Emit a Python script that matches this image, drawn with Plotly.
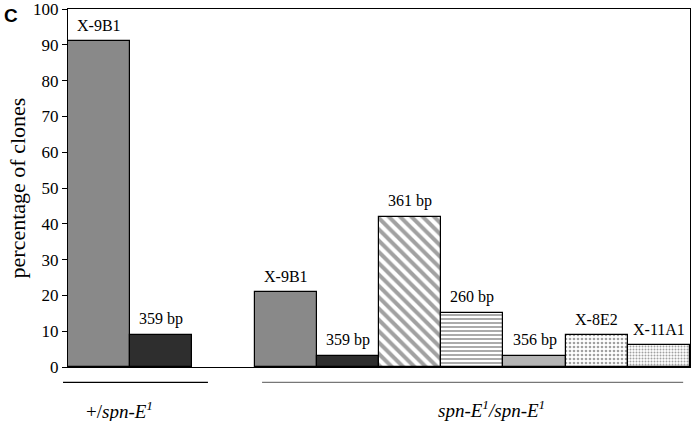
import plotly.graph_objects as go

#%%

# bar data (slot 2 is the empty gap between genotypes)
slots = [0, 1, 3, 4, 5, 6, 7, 8, 9]
labels = ["X-9B1", "359 bp", "X-9B1", "359 bp", "361 bp", "260 bp", "356 bp", "X-8E2", "X-11A1"]
values = [91, 9, 21, 3.2, 42, 15.2, 3, 9, 6.2]

colors = ["#898989", "#2e2e2e", "#898989", "#2e2e2e", "white", "white", "#b4b4b4", "white", "white"]
shapes = ["", "", "", "", "\\", "-", "", ".", "."]
pat_fg = ["black", "black", "black", "black", "black", "black", "black", "#222222", "#333333"]
pat_size = [8, 8, 8, 8, 8, 4, 8, 4, 3]
pat_sol = [0.3, 0.3, 0.3, 0.3, 0.5, 0.45, 0.3, 0.35, 0.35]

groups = ["+/<i>spn-E<sup>1</sup></i>", "<i>spn-E<sup>1</sup>/spn-E<sup>1</sup></i>"]

#%%

serif = "Liberation Serif, Times New Roman, serif"

fig = go.Figure()

fig.add_trace(go.Bar(
    x=slots, y=values, width=1,
    marker=dict(
        color=colors,
        line=dict(color="black", width=1.2),
        pattern=dict(shape=shapes, fgcolor=pat_fg, bgcolor=colors,
                     size=pat_size, solidity=pat_sol, fillmode="overlay"),
    ),
    hoverinfo="skip",
))

# labels above bars
for xs, v, lab in zip(slots, values, labels):
    fig.add_annotation(x=xs, y=v, text=lab, showarrow=False, yanchor="bottom",
                       yshift=5, font=dict(family=serif, size=16, color="black"))

# genotype lines + labels under the axis
fig.add_shape(type="line", xref="paper", yref="paper", x0=-0.008, x1=0.225,
              y0=-0.043, y1=-0.043, line=dict(color="black", width=1.2))
fig.add_shape(type="line", xref="paper", yref="paper", x0=0.312, x1=0.989,
              y0=-0.043, y1=-0.043, line=dict(color="#777777", width=1.2))
fig.add_annotation(xref="paper", yref="paper", x=0.083, y=-0.12, text=groups[0],
                   xanchor="center", yanchor="middle", showarrow=False,
                   font=dict(family=serif, size=19, color="black"))
fig.add_annotation(xref="paper", yref="paper", x=0.681, y=-0.117, text=groups[1],
                   xanchor="center", yanchor="middle", showarrow=False,
                   font=dict(family=serif, size=19, color="black"))

# panel letter
fig.add_annotation(xref="paper", yref="paper", x=-0.106, y=0.983, text="<b>C</b>",
                   xanchor="left", yanchor="middle", showarrow=False,
                   font=dict(family="Liberation Sans, Arial, sans-serif", size=19, color="black"))

fig.update_layout(
    width=692, height=421,
    margin=dict(l=68, r=2, t=9, b=54, autoexpand=False),
    paper_bgcolor="white", plot_bgcolor="white",
    showlegend=False,
    bargap=0,
    xaxis=dict(range=[-0.5, 9.5], showticklabels=False, ticks="", showgrid=False,
               zeroline=False, showline=True, linecolor="black", linewidth=1.2, mirror=True),
    yaxis=dict(range=[0, 100], tickvals=list(range(0, 101, 10)), ticks="outside",
               ticklen=5, tickcolor="black", ticklabeloverflow="allow",
               showgrid=False, zeroline=False, showline=True, linecolor="black",
               linewidth=1.2, mirror=True, automargin=False,
               tickfont=dict(family=serif, size=17, color="black"),
               title=dict(text="percentage of clones", standoff=1,
                          font=dict(family=serif, size=22, color="black"))),
)

# page body has a default 8px margin, drop it so the figure sits at 0,0
fig.write_html("out.html", config={"displayModeBar": False},
               post_script="document.body.style.margin='0';")
